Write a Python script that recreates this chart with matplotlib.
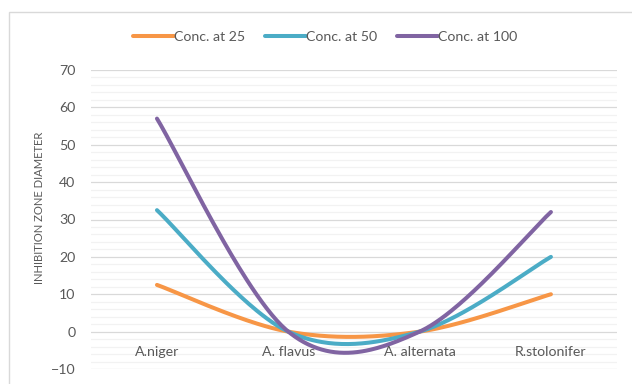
import numpy as np
import matplotlib.pyplot as plt
from matplotlib.patches import Rectangle
from matplotlib.ticker import MultipleLocator

plt.rcParams['font.family'] = ['Lato', 'DejaVu Sans']

fungi = ['A.niger', 'A. flavus', 'A. alternata', 'R.stolonifer']
conc_25 = [12.5, 0, 0, 10]
conc_50 = [32.5, 0, 0, 20]
conc_100 = [57, 0, 0, 32]
series = [('Conc. at 25', conc_25, '#F79646'),
          ('Conc. at 50', conc_50, '#4BACC6'),
          ('Conc. at 100', conc_100, '#8064A2')]


def smooth(xs, ys, n=60):
    # spreadsheet-style smoothed line: cubic bezier between points,
    # control points taken from the neighbouring points
    pts = np.column_stack([xs, ys]).astype(float)
    padded = np.vstack([pts[0], pts, pts[-1]])
    out = []
    t = np.linspace(0, 1, n)[:, None]
    for i in range(len(pts) - 1):
        p0, p1, p2, p3 = padded[i], padded[i + 1], padded[i + 2], padded[i + 3]
        c1 = p1 + (p2 - p0) / 6
        c2 = p2 - (p3 - p1) / 6
        seg = ((1 - t) ** 3) * p1 + 3 * ((1 - t) ** 2) * t * c1 \
            + 3 * (1 - t) * t ** 2 * c2 + t ** 3 * p2
        out.append(seg if i == 0 else seg[1:])
    seg = np.vstack(out)
    return seg[:, 0], seg[:, 1]


fig = plt.figure(figsize=(6.32, 3.84), dpi=100)
ax = fig.add_axes([91.3 / 632, 15 / 384, 525.3 / 632, 299 / 384])

x = np.arange(len(fungi))
for name, vals, color in series:
    sx, sy = smooth(x, vals)
    ax.plot(sx, sy, color=color, lw=2.9, solid_capstyle='round', label=name, zorder=3)

ax.set_xlim(-0.5, 3.5)
ax.set_ylim(-10, 70)
ax.yaxis.set_major_locator(MultipleLocator(10))
ax.yaxis.set_minor_locator(MultipleLocator(2))
ax.grid(axis='y', which='minor', color='#F2F2F2', lw=0.9, zorder=0)
ax.grid(axis='y', which='major', color='#D9D9D9', lw=0.9, zorder=1)
ax.set_axisbelow(True)
for s in ax.spines.values():
    s.set_visible(False)
ax.tick_params(axis='y', which='both', length=0, labelsize=10.2, labelcolor='#595959', pad=11.5)
ax.tick_params(axis='x', length=0, labelbottom=False)
ax.set_xticks([])

for i, name in enumerate(fungi):
    ax.annotate(name, xy=(i, 0), xytext=(0, -14.8), textcoords='offset points',
                ha='center', va='center', fontsize=10.2, color='#595959')

fig.text(40 / 632, 1 - 208 / 384, 'INHIBITION ZONE DIAMETER', rotation=90,
         ha='center', va='center', fontsize=8.1, color='#595959')

leg = fig.legend(loc='center', bbox_to_anchor=(325 / 632, 1 - 37 / 384), ncol=3,
                 frameon=False, fontsize=10.2, handlelength=2.9, handletextpad=0.0,
                 columnspacing=1.4, labelcolor='#595959')

fig.patches.append(Rectangle((8.5 / 632, -0.1), 1.2, 1 - 11.5 / 384 + 0.1,
                             transform=fig.transFigure, fill=False,
                             edgecolor='#D9D9D9', lw=1.0))

fig.savefig('out.png', dpi=100)
